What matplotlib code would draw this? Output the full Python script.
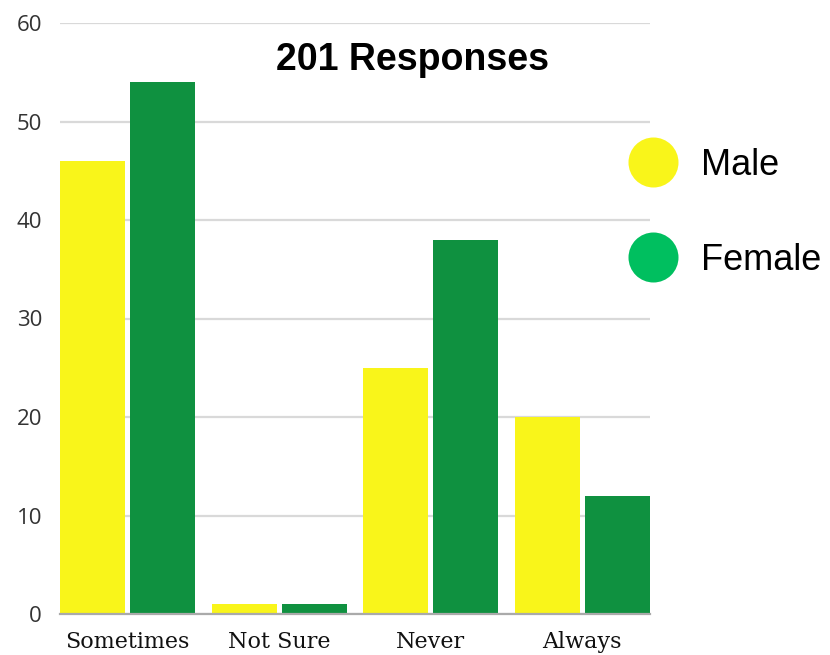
import numpy as np
import matplotlib.pyplot as plt
from matplotlib.lines import Line2D

categories = ["Sometimes", "Not Sure", "Never", "Always"]
male = [46, 1, 25, 20]
female = [54, 1, 38, 12]
yticks = [0, 10, 20, 30, 40, 50, 60]

male_color = "#f9f51a"
female_color = "#0f9140"
female_legend = "#00bf5f"

fig = plt.figure(figsize=(8.3, 6.55), dpi=100)
ax = fig.add_axes([60 / 830, 41 / 655, 590 / 830, 591 / 655])

x = np.arange(len(categories))
w = 0.43
off = 0.232
ax.bar(x - off, male, width=w, color=male_color, zorder=3)
ax.bar(x + off, female, width=w, color=female_color, zorder=3)

ax.set_xlim(-0.447, 3.447)
ax.set_ylim(0, 60)
ax.set_yticks(yticks)
ax.set_yticklabels([str(t) for t in yticks], fontsize=16, family="Open Sans", color="#333333")
ax.set_xticks(x)
ax.set_xticklabels(categories, fontsize=16, family="DejaVu Serif", color="#111111")
ax.tick_params(axis="y", length=0, pad=13)
ax.tick_params(axis="x", length=0, pad=12)

ax.grid(axis="y", color="#d9d9d9", linewidth=1.6, zorder=0)
for s in ["top", "right", "left"]:
    ax.spines[s].set_visible(False)
ax.spines["bottom"].set_color("#aaaaaa")
ax.spines["bottom"].set_linewidth(1.6)
ax.spines["bottom"].set_zorder(4)

fig.text(412 / 830, 1 - 60 / 655, "201 Responses", fontsize=27, fontweight="bold",
         family="Liberation Sans", ha="center", va="center")

handles = [
    Line2D([], [], marker="o", linestyle="none", markersize=36, markerfacecolor=male_color,
           markeredgecolor="none"),
    Line2D([], [], marker="o", linestyle="none", markersize=36, markerfacecolor=female_legend,
           markeredgecolor="none"),
]
fig.legend(handles, ["Male", "Female"], loc="upper left", bbox_to_anchor=(610 / 830, 1 - 130 / 655),
           frameon=False, prop={"family": "Liberation Sans", "size": 26},
           handletextpad=0.62, labelspacing=1.65, borderpad=0, handlelength=1.4)

fig.savefig("out.png", dpi=100, facecolor="white")
